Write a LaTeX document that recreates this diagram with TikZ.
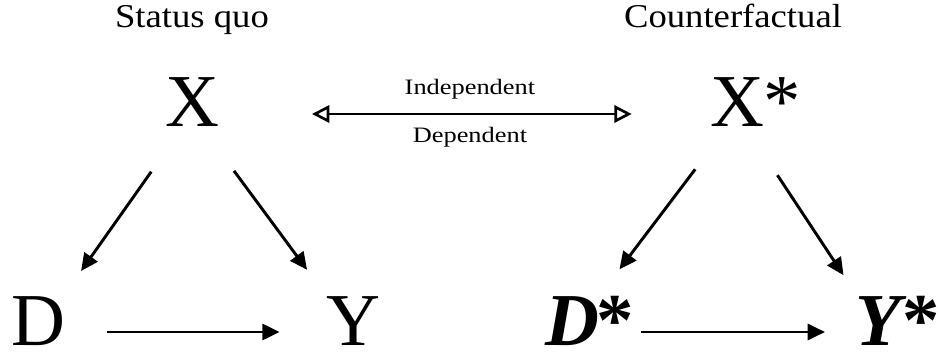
\documentclass[tikz,border=0pt]{standalone}
\usepackage{graphicx}
\usepackage{fontspec}
\setmainfont{Liberation Serif}
\usetikzlibrary{arrows.meta}

\begin{document}
\begin{tikzpicture}[
  x=0.75pt, y=-0.75pt,
  head/.style={anchor=base, inner sep=0pt, font=\fontsize{25}{30}\selectfont},
  letter/.style={anchor=base, inner sep=0pt, text height=26.5pt, text depth=7pt, font=\fontsize{56}{60}\selectfont},
  lbl/.style={inner sep=0pt, font=\fontsize{16.5}{18}\selectfont},
  edge/.style={-{Triangle[length=13pt, width=12pt]}, line width=2.2pt, shorten <=53pt, shorten >=56pt},
  link/.style={{Triangle[open, length=13pt, width=13pt]}-{Triangle[open, length=13pt, width=13pt]}, line width=2pt}
]
  \useasboundingbox (0,0) rectangle (938,356);

  \node[head] (sq) at (192,28) {\scalebox{1.1}[1]{Status quo}};
  \node[head] (cf) at (733,28) {\scalebox{1.1}[1]{Counterfactual}};

  \node[letter] (x) at (192,127) {X};
  \node[letter] (d) at (38,345) {D};
  \node[letter] (y) at (353,345) {Y};

  \node[letter] (xs) at (737,127) {X\rlap{*}};
  \node[letter] (ds) at (572,345) {\textbf{\textit{D}}\rlap{\kern-2pt\textbf{*}}};
  \node[letter] (ys) at (881,345) {\textbf{\textit{Y}}\rlap{\kern-3pt\textbf{*}}};

  % status quo
  \draw[edge] (x.center) -- (d.center);
  \draw[edge, shorten >=58pt] (x.center) -- (y.center);
  \draw[edge, shorten <=52pt, shorten >=55pt] (d.center) -- (y.center);

  % counterfactual
  \draw[edge, shorten <=52pt, shorten >=59pt] (xs.center) -- (ds.center);
  \draw[edge, shorten <=55pt, shorten >=51pt] (xs.center) -- (ys.center);
  \draw[edge, shorten <=52pt, shorten >=42pt] (ds.center) -- (ys.center);

  \draw[link, shorten <=90pt, shorten >=79pt] (x.center) --
    node[lbl, pos=0.51, above=9.9pt] {\scalebox{1.2}[1]{Independent}}
    node[lbl, pos=0.51, below=8.6pt] {\scalebox{1.2}[1]{Dependent}} (xs.center);
\end{tikzpicture}
\end{document}
